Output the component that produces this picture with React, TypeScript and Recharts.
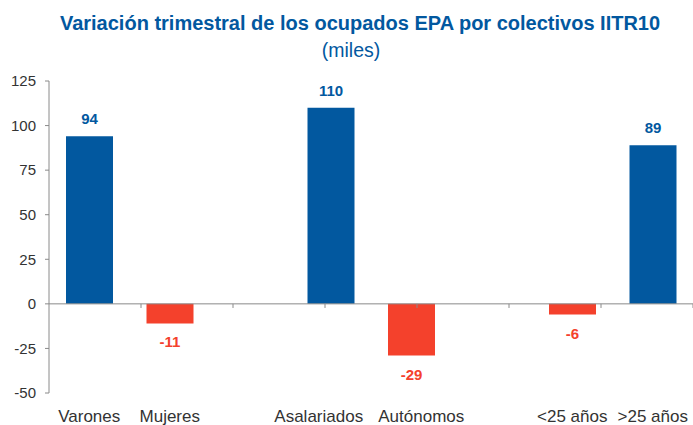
import { BarChart, Bar, XAxis, YAxis, Cell, LabelList, ReferenceLine } from "recharts";

const FONT = "'Liberation Sans', Arial, Helvetica, sans-serif";
const BLUE = "#02589F";
const RED = "#F4412C";
const TEXT = "#333333";
const AXIS = "#8a8a8a";

const categories = ["Varones", "Mujeres", " ", "Asalariados", "Autónomos", "  ", "<25 años", ">25 años"];
const values: (number | null)[] = [94, -11, null, 110, -29, null, -6, 89];
const yTicks = [-50, -25, 0, 25, 50, 75, 100, 125];
const boundaries = [1, 2, 3, 4, 5, 6, 7];

// the two middle labels sit a little apart in the original
const labelShift: Record<string, number> = { Asalariados: -12, "Autónomos": 10 };

const data = categories.map((c, i) => ({ name: c, value: values[i] }));

function CatTick({ x, y, payload }: any) {
  const name = payload.value.trim();
  return (
    <text x={x + (labelShift[name] || 0)} y={y + 21} textAnchor="middle" fill={TEXT} fontSize={17} fontFamily={FONT}>
      {name}
    </text>
  );
}

function ValueLabel({ x, y, width, height, value }: any) {
  if (value == null) return null;
  const top = Math.min(y, y + height);
  const bottom = Math.max(y, y + height);
  const neg = value < 0;
  return (
    <text x={x + width / 2} y={neg ? bottom + 24 : top - 12} textAnchor="middle"
      fill={neg ? RED : BLUE} fontSize={15} fontWeight="bold" fontFamily={FONT}>
      {value}
    </text>
  );
}

export default function App() {
  return (
    <div style={{ position: "absolute", left: 0, top: 0, width: 693, height: 425, background: "#fff", fontFamily: FONT }}>
      <svg width={693} height={70} style={{ position: "absolute", left: 0, top: 0 }}>
        <text x={360} y={30} textAnchor="middle" fill={BLUE} fontSize={20} fontWeight="bold" fontFamily={FONT}>
          Variación trimestral de los ocupados EPA por colectivos IITR10
        </text>
        <text x={351} y={57} textAnchor="middle" fill={BLUE} fontSize={19.5} fontFamily={FONT}>
          (miles)
        </text>
      </svg>
      <div style={{ position: "absolute", left: 0, top: 0 }}>
        <BarChart width={693} height={425} data={data} margin={{ top: 81, right: 0, bottom: 0, left: 0 }}>
          <XAxis xAxisId="cat" dataKey="name" axisLine={false} tickLine={false} height={32}
            tick={<CatTick />} interval={0} />
          <XAxis xAxisId="grid" type="number" domain={[0, 8]} hide />
          <YAxis domain={[-50, 125]} ticks={yTicks} width={49} stroke={AXIS} tickSize={4} tickMargin={9}
            tick={{ fill: TEXT, fontSize: 15, fontFamily: FONT }} interval={0} />
          <ReferenceLine xAxisId="cat" y={0} stroke={AXIS} strokeWidth={1} />
          {boundaries.map((b) => (
            <ReferenceLine key={b} xAxisId="grid" stroke={AXIS}
              segment={[{ x: b, y: 0 }, { x: b, y: -2.3 }]} />
          ))}
          <Bar xAxisId="cat" dataKey="value" barSize={47} isAnimationActive={false}>
            {data.map((d, i) => (
              <Cell key={i} fill={d.value != null && d.value < 0 ? RED : BLUE} />
            ))}
            <LabelList dataKey="value" content={<ValueLabel />} />
          </Bar>
        </BarChart>
      </div>
    </div>
  );
}
